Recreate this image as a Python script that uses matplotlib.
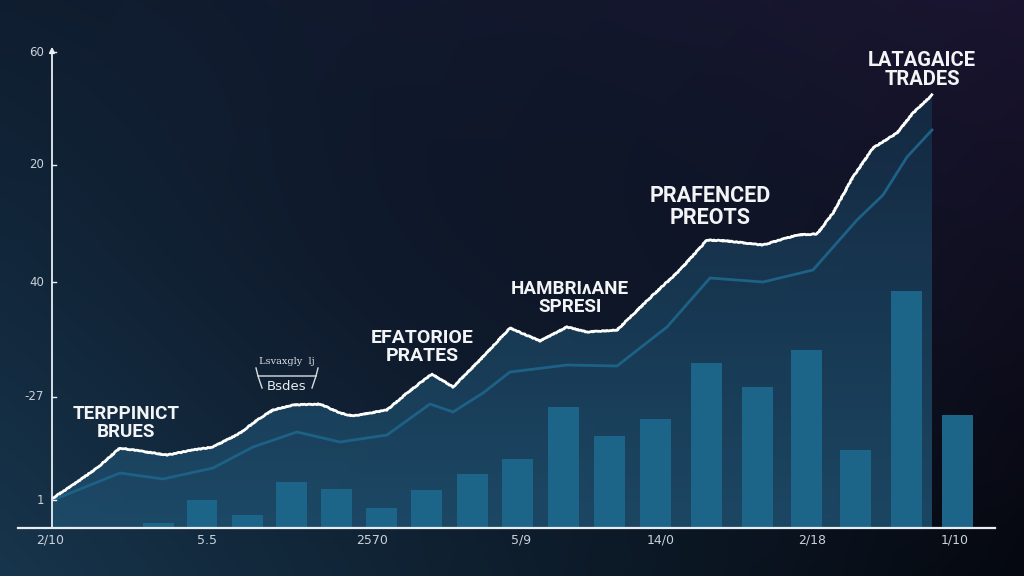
import numpy as np
import matplotlib
matplotlib.use("Agg")
import matplotlib.pyplot as plt
from matplotlib.patches import Polygon

# ---- data (x in days from start, y in index units) ----
bar_x = [10.6, 15.0, 19.5, 23.9, 28.4, 32.9, 37.4, 42.0, 46.5,
         51.1, 55.7, 60.3, 65.4, 70.5, 75.4, 80.3, 85.4, 90.5]
bar_h = [0.5, 2.8, 1.3, 4.6, 3.9, 2.0, 3.8, 5.4, 6.9,
         12.1, 9.2, 10.9, 16.5, 14.1, 17.8, 7.8, 23.7, 11.3]

price_x = [0.1, 2.1, 4.5, 6.8, 8.8, 11.5, 14.1, 16.1, 18.8, 20.8, 22.1, 24.1,
           26.8, 28.8, 30.1, 33.5, 35.5, 38.0, 40.1, 42.8, 45.8, 48.8, 51.5,
           53.5, 56.5, 60.1, 62.8, 65.5, 67.5, 71.1, 74.5, 76.5, 78.1, 80.1,
           82.1, 84.5, 86.1, 88.0]
price_y = [3.0, 4.3, 6.0, 8.0, 7.7, 7.3, 7.8, 8.1, 9.5, 11.0, 11.8, 12.3,
           12.4, 11.5, 11.2, 11.8, 13.5, 15.4, 14.1, 16.8, 20.0, 18.7, 20.1,
           19.6, 19.8, 23.3, 25.8, 28.8, 28.7, 28.3, 29.3, 29.4, 31.5, 35.1,
           38.0, 39.5, 41.5, 43.3]

trend_x = [0.1, 6.8, 11.1, 16.1, 20.1, 24.5, 28.8, 33.5, 37.8, 40.1, 43.1,
           45.8, 51.5, 56.5, 61.5, 65.8, 71.1, 76.1, 80.5, 83.1, 85.5, 88.0]
trend_y = [2.8, 5.5, 4.9, 6.0, 8.1, 9.6, 8.6, 9.3, 12.4, 11.6, 13.5,
           15.6, 16.3, 16.2, 20.1, 25.0, 24.6, 25.8, 30.8, 33.3, 37.1, 39.8]

ytick_pos = [2.8, 13.1, 24.6, 36.3, 47.6]
ytick_lab = ["1", "-27", "40", "20", "60"]
xtick_pos = [-0.2, 15.5, 32.0, 46.9, 60.9, 76.0, 90.3]
xtick_lab = ["2/10", "5.5", "2570", "5/9", "14/0", "2/18", "1/10"]

labels = [
    ("TERPPINICT\nBRUES", 7.4, 10.5, 13.5),
    ("EFATORIOE\nPRATES", 37.0, 18.1, 14),
    ("HAMBRIʌANE\nSPRESI", 51.8, 23.0, 13.5),
    ("PRAFENCED\nPREOTS", 65.8, 32.1, 15.5),
    ("LATAGAICE\nTRADES", 87.0, 45.8, 14.5),
]

# ---- figure ----
fig = plt.figure(figsize=(10.24, 5.76), dpi=100)
ax = fig.add_axes([0, 0, 1, 1])
xmin, xmax, ymin, ymax = -5.2, 97.2, -4.8, 52.8
ax.set_xlim(xmin, xmax)
ax.set_ylim(ymin, ymax)
ax.axis("off")

# background gradient (corner colours)
def hexrgb(h):
    h = h.lstrip("#")
    return np.array([int(h[i:i + 2], 16) / 255 for i in (0, 2, 4)])

tl, tr = hexrgb("#0f1e30"), hexrgb("#1b1430")
bl, br = hexrgb("#17354c"), hexrgb("#05080f")
u = np.linspace(0, 1, 256)[None, :, None]
v = np.linspace(0, 1, 144)[:, None, None]
top = tl * (1 - u) + tr * u
bot = bl * (1 - u) + br * u
bg = top * (1 - v) + bot * v
mid = hexrgb("#0a1322")
w = np.exp(-((u - 0.5) ** 2 / 0.12 + (v - 0.35) ** 2 / 0.15))
bg = bg * (1 - 0.5 * w) + mid * 0.5 * w
ax.imshow(bg, extent=[xmin, xmax, ymin, ymax], origin="upper",
          aspect="auto", zorder=0, interpolation="bicubic")

# area under price line, vertical gradient
poly_xy = np.column_stack([[price_x[0]] + price_x + [price_x[-1]],
                           [0] + price_y + [0]])
grad = np.linspace(0, 1, 200)[:, None]
c_top, c_bot = hexrgb("#152c45"), hexrgb("#1e4d6b")
gimg = c_top * (1 - grad[..., None]) + c_bot * grad[..., None]
gimg = np.concatenate([gimg, np.full((200, 1, 1), 0.9)], axis=2)
im = ax.imshow(gimg, extent=[price_x[0], price_x[-1], 0, max(price_y)],
               origin="upper", aspect="auto", zorder=1)
clip = Polygon(poly_xy, closed=True, transform=ax.transData, fc="none", ec="none")
ax.add_patch(clip)
im.set_clip_path(clip)

# bars
ax.bar(bar_x, bar_h, width=3.1, color="#1c6488", zorder=2)

# lines
ax.plot(trend_x, trend_y, color="#1e6186", lw=2.0, zorder=3)
ln, = ax.plot(price_x, price_y, color="white", lw=2.0, zorder=4,
              solid_joinstyle="round")
ln.set_sketch_params(scale=0.4, length=3, randomness=4)

# axes lines
axis_col = "#e8eef4"
ax.plot([-3.4, 94.3], [0, 0], color=axis_col, lw=1.6, zorder=5)
ax.annotate("", xy=(0, 48.4), xytext=(0, -0.2),
            arrowprops=dict(arrowstyle="-|>", color=axis_col, lw=1.3,
                            mutation_scale=8), zorder=5)
for yp, lab in zip(ytick_pos, ytick_lab):
    ax.plot([0, 0.35], [yp, yp], color=axis_col, lw=1, zorder=5)
    ax.text(-0.8, yp, lab, ha="right", va="center", fontsize=8.5,
            color="#c9d2da", family="Liberation Sans Narrow")
for xp, lab in zip(xtick_pos, xtick_lab):
    ax.text(xp, -1.2, lab, ha="center", va="center", fontsize=9,
            color="#c9d2da", family="Liberation Sans Narrow")

# annotations
for txt, x, y, fs in labels:
    ax.text(x, y, txt, ha="center", va="center", fontsize=fs,
            color="#f2f4f6", family="Roboto", weight="bold",
            linespacing=1.0, zorder=6)

# small bracket note
bx, by = 23.5, 15.2
ax.text(bx, by + 1.4, "Lsvaxgly  lj", ha="center", va="center",
        fontsize=7, color="#d8dde2", family="DejaVu Serif", zorder=6)
ax.text(bx, by - 1.0, "Bsdes", ha="center", va="center",
        fontsize=9.5, color="#e8ecf0", zorder=6)
ax.plot([bx - 3.1, bx - 2.9, bx + 2.9, bx + 3.1],
        [by + 0.8, by, by, by + 0.8], color="#d8dde2", lw=1, zorder=6)
ax.plot([bx - 2.9, bx - 2.5], [by, by - 1.2], color="#d8dde2", lw=1, zorder=6)
ax.plot([bx + 2.9, bx + 2.5], [by, by - 1.2], color="#d8dde2", lw=1, zorder=6)

fig.savefig("out.png", dpi=100)
